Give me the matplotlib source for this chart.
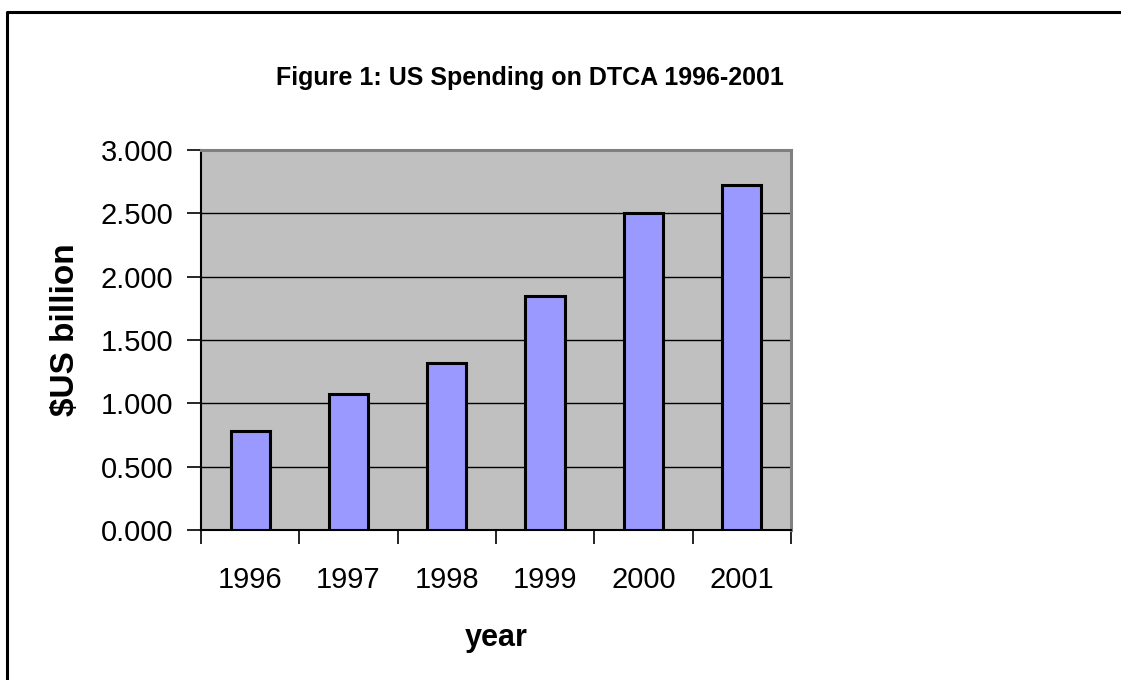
import matplotlib
matplotlib.use("Agg")
import matplotlib.pyplot as plt
from matplotlib.lines import Line2D
from matplotlib.ticker import FixedLocator, FormatStrFormatter

plt.rcParams['font.family'] = ['Liberation Sans', 'DejaVu Sans']

years = ['1996', '1997', '1998', '1999', '2000', '2001']
spending = [0.78, 1.07, 1.32, 1.85, 2.50, 2.72]  # $US billion
y_ticks = [0.0, 0.5, 1.0, 1.5, 2.0, 2.5, 3.0]

fig = plt.figure(figsize=(11.21, 6.8), dpi=100)
ax = fig.add_axes([201 / 1121, 1 - 530 / 680, 590 / 1121, 380 / 680])

ax.set_facecolor('#C0C0C0')
x = list(range(len(years)))
ax.bar(x, spending, width=0.4, color='#9999FF', edgecolor='black',
       linewidth=2.2, zorder=3)

ax.set_xlim(-0.5, len(years) - 0.5)
ax.set_ylim(0, 3.0)

# ticks sit on category boundaries, labels in the middle
ax.xaxis.set_major_locator(FixedLocator([i - 0.5 for i in range(len(years) + 1)]))
ax.xaxis.set_minor_locator(FixedLocator(x))
ax.set_xticklabels([], minor=False)
ax.set_xticklabels(years, minor=True)
ax.tick_params(axis='x', which='major', direction='out', length=10, width=1.2)
ax.tick_params(axis='x', which='minor', length=0, pad=26, labelsize=21)

ax.yaxis.set_major_locator(FixedLocator(y_ticks))
ax.yaxis.set_major_formatter(FormatStrFormatter('%.3f'))
ax.tick_params(axis='y', direction='out', length=10, width=1.2, pad=10, labelsize=21)

ax.set_axisbelow(True)
ax.yaxis.grid(True, color='black', linewidth=1.0)

for side in ['left', 'bottom']:
    ax.spines[side].set_color('black')
    ax.spines[side].set_linewidth(1.5)
for side in ['top', 'right']:
    ax.spines[side].set_color('#808080')
    ax.spines[side].set_linewidth(2.2)

ax.set_xlabel('year', fontsize=22, fontweight='bold')
ax.xaxis.set_label_coords(0.5, -0.285)
ax.xaxis.label.set_verticalalignment('center')

ax.set_ylabel('$US billion', fontsize=24, fontweight='bold')
ax.yaxis.set_label_coords(-0.23, 0.526)
ax.yaxis.label.set_verticalalignment('center')

fig.text(530 / 1121, 1 - 78 / 680, 'Figure 1: US Spending on DTCA 1996-2001',
         ha='center', va='center', fontsize=18, fontweight='bold')

# frame around the chart
fx = 7 / 1121
fy = 1 - 12 / 680
fig.add_artist(Line2D([fx, fx, 1.0], [0.0, fy, fy], color='black',
                      linewidth=2.2, transform=fig.transFigure))

fig.savefig('out.png', dpi=100)
